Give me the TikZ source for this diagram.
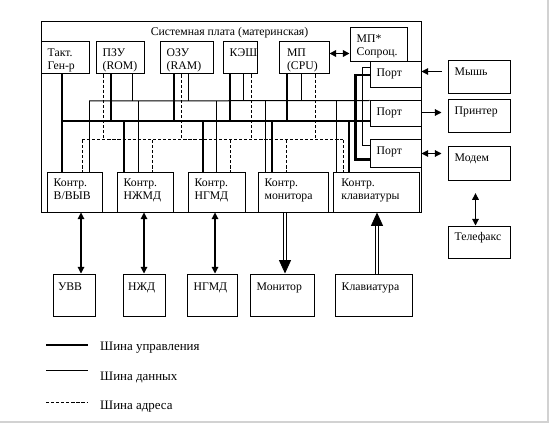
\documentclass[tikz,border=0pt]{standalone}
\usepackage{fontspec}
\setmainfont{Liberation Serif}
\usetikzlibrary{arrows.meta,calc,fit}
\newcommand\fsz{\fontsize{8.8}{9.9}\selectfont}
\newcommand\lsz{\fontsize{9.7}{11}\selectfont}
\newcommand\busdrop[4]{\path (#3,0) coordinate (bx); \draw[#1] (#2.south -| bx) -- (bx |- #4);}
\newcommand\busrise[4]{\path (#3,0) coordinate (bx); \draw[#1] (bx |- #4) -- (#2.north -| bx);}
\newcommand\mkbox[7]{%
  \path (#2,#3) coordinate (#1-a) (#4,#5) coordinate (#1-b);
  \node[box, fit=(#1-a)(#1-b), label={[txt,#6]north west:{#7}}] (#1) {};}
\tikzset{
  box/.style={draw, line width=0.75pt, inner sep=0pt},
  txt/.style={anchor=north west, align=left, inner xsep=5.2pt, inner ysep=5.2pt, font=\fsz},
  ctl/.style={line width=1.7pt},
  dat/.style={line width=0.75pt},
  adr/.style={line width=0.75pt, dash pattern=on 2.4pt off 1.4pt},
  arr/.style={line width=0.8pt, -{Triangle[length=5pt,width=5pt]}},
  darr/.style={line width=0.8pt, {Triangle[length=5pt,width=5pt]}-{Triangle[length=5pt,width=5pt]}},
  bigarr/.style={line width=0.6pt, double, double distance=1.6pt, -{Triangle[length=10pt,width=9pt]}},
}
\begin{document}
\begin{tikzpicture}[x=0.75pt,y=-0.75pt, label distance=0pt]
\useasboundingbox (0,0) rectangle (549,424);
\fill[white] (0,0) rectangle (549,424);
\draw[gray!35, line width=0.8pt] (548,0) -- (548,422) -- (0,422);

% board
\path (41,22) coordinate (bd-a) (421,212) coordinate (bd-b);
\node[box, fit=(bd-a)(bd-b)] (board) {};
\node[font=\fsz] (title) at (229.5,33) {Системная плата (материнская)};

% top components
\mkbox{tg}{41}{42}{89}{74}{}{Такт.\\Ген-р}
\mkbox{rom}{96}{42}{144}{74}{}{ПЗУ\\(ROM)}
\mkbox{ram}{160}{42}{213}{74}{}{ОЗУ\\(RAM)}
\mkbox{cache}{223}{42}{257}{74}{}{КЭШ}
\mkbox{cpu}{279}{42}{329}{74}{inner xsep=6.2pt}{МП\\(CPU)}
\mkbox{fpu}{350}{28}{407}{62}{}{МП*\\Сопроц.}

% ports
\mkbox{port1}{370}{62}{421}{88}{}{Порт}
\mkbox{port2}{370}{101}{421}{127}{}{Порт}
\mkbox{port3}{370}{140}{421}{167}{}{Порт}

% external right devices
\mkbox{mouse}{448}{61}{510}{94}{}{Мышь}
\mkbox{printer}{448}{100}{510}{133}{}{Принтер}
\mkbox{modem}{448}{147}{510}{180}{}{Модем}
\mkbox{fax}{448}{226}{510}{258}{}{Телефакс}

% controllers
\mkbox{cio}{47}{172}{102}{212}{}{Контр.\\В/ВЫВ}
\mkbox{chdd}{117}{172}{173}{212}{}{Контр.\\НЖМД}
\mkbox{cfdd}{188}{172}{245}{212}{}{Контр.\\НГМД}
\mkbox{cmon}{258}{172}{328}{212}{}{Контр.\\монитора}
\mkbox{ckbd}{333}{172}{419}{212}{inner xsep=6.5pt}{Контр.\\клавиатуры}

% bottom devices
\mkbox{uvv}{53}{274}{95}{316}{inner xsep=4pt, inner ysep=6.6pt}{УВВ}
\mkbox{hdd}{123}{274}{165}{316}{inner xsep=4pt, inner ysep=6.6pt}{НЖД}
\mkbox{fdd}{187}{274}{237}{316}{inner ysep=6.6pt}{НГМД}
\mkbox{mon}{250}{274}{314}{316}{inner ysep=6.6pt}{Монитор}
\mkbox{kbd}{335}{274}{412}{316}{inner ysep=6.6pt}{Клавиатура}

% buses
\coordinate (dbus) at (89,101);
\coordinate (cbus) at (62,121);
\coordinate (abus) at (82,140);
\draw[dat] (dbus) -- (port2.north west);
\draw[ctl] (cbus) -- (cbus -| port2.west);
\draw[adr] (abus) -- (343,140) coordinate (abus-e);

% clock line straight through
\path (62,0) coordinate (bx);
\draw[ctl] (tg.south -| bx) -- (cio.north -| bx);

% from top components to buses
\busdrop{adr}{rom}{103}{abus}
\busdrop{ctl}{rom}{111}{cbus}
\busdrop{dat}{rom}{132}{dbus}
\busdrop{ctl}{ram}{174}{cbus}
\busdrop{adr}{ram}{181}{abus}
\busdrop{dat}{ram}{188}{dbus}
\busdrop{ctl}{cache}{230}{cbus}
\busdrop{dat}{cache}{243}{dbus}
\busdrop{adr}{cache}{251}{abus}
\busdrop{ctl}{cpu}{287}{cbus}
\busdrop{dat}{cpu}{301}{dbus}
\busdrop{adr}{cpu}{315}{abus}

% from buses to controllers
\busrise{adr}{cio}{82}{abus}
\busrise{dat}{cio}{89}{dbus}
\busrise{ctl}{chdd}{124}{cbus}
\busrise{dat}{chdd}{138}{dbus}
\busrise{adr}{chdd}{152}{abus}
\busrise{ctl}{cfdd}{203}{cbus}
\busrise{dat}{cfdd}{216}{dbus}
\busrise{adr}{cfdd}{230}{abus}
\busrise{dat}{cmon}{265}{dbus}
\busrise{ctl}{cmon}{272}{cbus}
\busrise{adr}{cmon}{286}{abus}
\busrise{dat}{ckbd}{336}{dbus}
\busrise{adr}{ckbd}{343}{abus}
\busrise{ctl}{ckbd}{349}{cbus}

% port brackets
\draw[ctl] ($(port1.north west)+(0,13.5)$) -- ++(-14,0) |- ($(port3.north west)+(0,20)$);
\draw[dat] ($(port1.north west)+(0,6)$) -- ++(-7,0) |- ($(port3.north west)+(0,6.5)$);

% cpu - coprocessor
\path ($(cpu.north east)+(0,12)$) coordinate (c1);
\draw[darr, line width=1.2pt] (c1) -- (c1 -| fpu.west);

% ports - devices
\path ($(mouse.north west)+(0,11)$) coordinate (m1);
\draw[arr, shorten <=4.5pt] (m1) -- (m1 -| port1.east);
\path ($(printer.north west)+(0,13)$) coordinate (p1);
\draw[arr, shorten >=4.5pt] (p1 -| port2.east) -- (p1);
\draw[darr, shorten >=4.5pt] (port3.east) -- (port3.east -| modem.west);
\path ($(modem.south west)+(28,0)$) coordinate (f1);
\draw[darr, shorten <=9.5pt] (f1) -- (f1 |- fax.north);

% controllers - devices
\path (81,0) coordinate (vx);
\draw[darr] (cio.south -| vx) -- (uvv.north -| vx);
\path (144,0) coordinate (vx);
\draw[darr] (chdd.south -| vx) -- (hdd.north -| vx);
\path (215,0) coordinate (vx);
\draw[darr] (cfdd.south -| vx) -- (fdd.north -| vx);
\path (285,0) coordinate (vx);
\draw[bigarr] (cmon.south -| vx) -- (mon.north -| vx);
\path (377,0) coordinate (vx);
\draw[bigarr] (kbd.north -| vx) -- (ckbd.south -| vx);

% legend
\coordinate (l1a) at (46,345); \coordinate (l1b) at (88,345);
\coordinate (l2a) at (46,370); \coordinate (l2b) at (88,370);
\coordinate (l3a) at (46,402); \coordinate (l3b) at (88,402);
\draw[ctl] (l1a) -- (l1b);
\draw[dat] (l2a) -- (l2b);
\draw[adr] (l3a) -- (l3b);
\node[font=\lsz, anchor=west] (lt1) at (95.5,347.5) {Шина управления};
\node[font=\lsz, anchor=west] (lt2) at (95.5,377.5) {Шина данных};
\node[font=\lsz, anchor=west] (lt3) at (95.5,406.5) {Шина адреса};
\end{tikzpicture}
\end{document}
